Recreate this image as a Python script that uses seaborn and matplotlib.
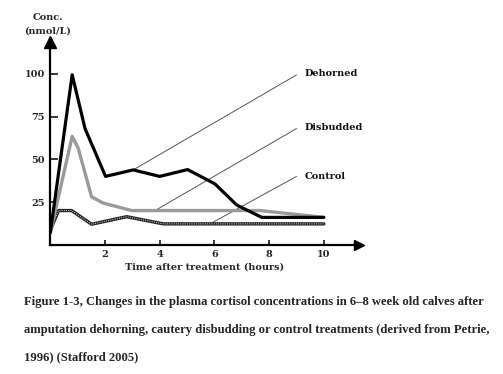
import matplotlib
matplotlib.use("Agg")
import matplotlib.pyplot as plt
import seaborn as sns

# Cortisol curves (time in hours, conc in nmol/L)
dehorned_t = [0, 0.8, 1.27, 2.02, 3.03, 4.0, 5.02, 6.02, 6.81, 7.73, 10.0]
dehorned_c = [7, 99.5, 68, 40, 43.8, 40, 44, 35.6, 23.3, 16, 16]

disbudded_t = [0, 0.8, 1.02, 1.51, 1.93, 2.98, 7.67, 10.0]
disbudded_c = [7, 63.5, 56.5, 28, 24.4, 20, 20, 16]

control_t = [0, 0.3, 0.78, 1.51, 2.79, 4.13, 10.0]
control_c = [8.5, 20, 20, 12, 16.4, 12.2, 12.2]

labels = ["Dehorned", "Disbudded", "Control"]
label_y = [100.5, 68.5, 39.7]
leader_start = [(3.03, 43.8), (3.83, 20), (5.84, 12.2)]
leader_end = [(9.0, 99.4), (9.0, 68), (9.0, 40)]

x_ticks = [2, 4, 6, 8, 10]
y_ticks = [25, 50, 75, 100]

caption = ["Figure 1-3, Changes in the plasma cortisol concentrations in 6\u20138 week old calves after",
           "amputation dehorning, cautery disbudding or control treatments (derived from Petrie,",
           "1996) (Stafford 2005)"]

sns.set_style("white")
plt.rcParams['font.family'] = ['DejaVu Serif']

fig = plt.figure(figsize=(5.03, 3.74), dpi=100)
ax = fig.add_axes([0.1, 0.3457, 0.6145, 0.542])

# thin leader lines from curves to labels
for (x0, y0), (x1, y1), lab, ly in zip(leader_start, leader_end, labels, label_y):
    ax.plot([x0, x1], [y0, y1], color="#555555", lw=0.7, zorder=1)
    ax.text(9.31, ly, lab, fontsize=7, fontweight="bold", va="center", ha="left",
            color="#111111", clip_on=False)

sns.lineplot(x=control_t, y=control_c, color="#222222", lw=2.4, ax=ax, zorder=2)
sns.lineplot(x=control_t, y=control_c, color="#dddddd", lw=0.8, ls=(0, (0.8, 1.2)), ax=ax, zorder=2.1)
sns.lineplot(x=disbudded_t, y=disbudded_c, color="#9a9a9a", lw=2.4, ax=ax, zorder=3)
sns.lineplot(x=dehorned_t, y=dehorned_c, color="black", lw=2.3, ax=ax, zorder=4)

ax.set_xlim(0, 11.3)
ax.set_ylim(0, 118.7)
ax.set_xticks(x_ticks)
ax.set_yticks(y_ticks)
ax.set_xticklabels([str(t) for t in x_ticks], fontsize=7, fontweight="bold")
ax.set_yticklabels([str(t) for t in y_ticks], fontsize=7, fontweight="bold")
ax.tick_params(axis="y", direction="in", length=6, width=1.3, pad=4)
ax.tick_params(axis="x", direction="in", length=3.5, width=1.3, pad=4)
ax.tick_params(left=True, bottom=True)

for side in ["top", "right"]:
    ax.spines[side].set_visible(False)
for side in ["left", "bottom"]:
    ax.spines[side].set_linewidth(1.6)
    ax.spines[side].set_color("black")

# arrow heads on the axes
ax.plot(1, 0, ">", color="black", ms=7, transform=ax.transAxes, clip_on=False)
ax.plot(0, 1, "^", color="black", ms=8, transform=ax.transAxes, clip_on=False)

ax.set_xlabel("Time after treatment (hours)", fontsize=7, fontweight="bold", labelpad=2)
ax.set_ylabel("")
fig.text(0.095, 0.952, "Conc.", fontsize=7, fontweight="bold", ha="center", va="center")
fig.text(0.095, 0.918, "(nmol/L)", fontsize=7, fontweight="bold", ha="center", va="center")

for i, line in enumerate(caption):
    fig.text(0.048, 1 - (302 + 27.5 * i) / 374, line, fontsize=9.1, fontweight="bold",
             family="Liberation Serif", ha="left", va="center")

fig.savefig("out.png", dpi=100)
